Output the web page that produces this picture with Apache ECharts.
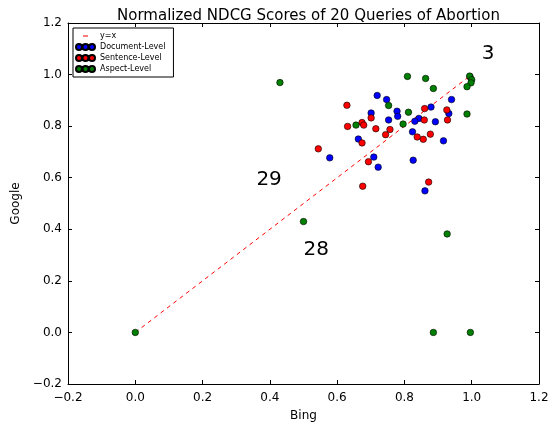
<!DOCTYPE html>
<html><head><meta charset="utf-8">
<script src="https://cdn.jsdelivr.net/npm/echarts@6/dist/echarts.min.js"></script>
<style>html,body{margin:0;padding:0;background:#fff}#c{width:552px;height:427px}</style>
</head><body><div id="c"></div>
<script>
const xTicks = [-0.2, 0.0, 0.2, 0.4, 0.6, 0.8, 1.0, 1.2];
const yTicks = [-0.2, 0.0, 0.2, 0.4, 0.6, 0.8, 1.0, 1.2];
const documentLevel = [
  [0.940,0.903],[0.719,0.919],[0.747,0.903],[0.701,0.851],[0.778,0.858],
  [0.780,0.838],[0.753,0.824],[0.879,0.874],[0.843,0.830],[0.831,0.819],
  [0.892,0.817],[0.932,0.849],[0.824,0.778],[0.916,0.743],[0.663,0.750],
  [0.578,0.677],[0.709,0.680],[0.722,0.641],[0.826,0.668],[0.861,0.549]
];
const sentenceLevel = [
  [0.995,0.991],[0.629,0.881],[0.701,0.832],[0.674,0.814],[0.679,0.804],
  [0.631,0.799],[0.715,0.790],[0.757,0.787],[0.860,0.868],[0.859,0.824],
  [0.926,0.863],[0.928,0.824],[0.744,0.767],[0.838,0.758],[0.856,0.749],
  [0.877,0.769],[0.674,0.735],[0.544,0.712],[0.693,0.662],[0.676,0.567],
  [0.872,0.583]
];
const aspectLevel = [
  [0.809,0.993],[0.863,0.985],[0.886,0.946],[0.994,0.994],[1.000,0.980],
  [0.998,0.968],[0.986,0.953],[0.986,0.847],[0.753,0.880],[0.812,0.854],
  [0.656,0.804],[0.796,0.808],[0.430,0.969],[0.500,0.430],[0.927,0.382],
  [0.886,0.000],[0.996,0.000],[0.000,0.000]
];
const identityLine = [[0,0],[1,1]];
const annotations = [[1.03,1.043,'3'],[0.36,0.553,'29'],[0.50,0.283,'28']];

const fmt = v => (Math.round(v*10)/10).toFixed(1).replace('-', '\u2212');
const font = 'DejaVu Sans';
const dots = 'path://M0,3a3,3 0 1,0 6,0a3,3 0 1,0 -6,0M6.5,3a3,3 0 1,0 6,0a3,3 0 1,0 -6,0M13,3a3,3 0 1,0 6,0a3,3 0 1,0 -6,0';

const axisCommon = {
  type:'value', min:-0.2, max:1.2, interval:0.2,
  axisLine:{show:true, onZero:false, lineStyle:{color:'#000', width:1}},
  axisTick:{show:true, inside:true, length:4, lineStyle:{color:'#000'}},
  splitLine:{show:false}
};
const chart = echarts.init(document.getElementById('c'), null, {renderer:'canvas'});
const scatterStyle = c => ({color:c, borderColor:'#000', borderWidth:0.6, opacity:1});
chart.setOption({
  animation:false,
  backgroundColor:'#fff',
  textStyle:{fontFamily:font},
  title:{text:'Normalized NDCG Scores of 20 Queries of Abortion', left:303.5, textAlign:'center', top:4,
    textStyle:{fontFamily:font, fontSize:15, fontWeight:'normal', color:'#000'}},
  grid:{left:68, right:13, top:23, bottom:40, containLabel:false},
  legend:{
    orient:'vertical', left:73, top:28, itemWidth:19, itemHeight:6, itemGap:3,
    padding:[4,8,4,2], borderColor:'#000', borderWidth:1, backgroundColor:'#fff',
    textStyle:{fontFamily:font, fontSize:8, color:'#000'},
    data:[
      {name:'y=x', itemStyle:{opacity:0}, lineStyle:{type:[0,7,5,100], width:1.2, color:'#ff0000'}},
      {name:'Document-Level', icon:dots},
      {name:'Sentence-Level', icon:dots},
      {name:'Aspect-Level', icon:dots}
    ]
  },
  xAxis:[
    Object.assign({}, axisCommon, {position:'bottom', name:'Bing', nameLocation:'middle', nameGap:26,
      nameTextStyle:{fontFamily:font, fontSize:12, color:'#000'},
      axisLabel:{color:'#000', fontFamily:font, fontSize:12, margin:8, formatter:fmt, showMinLabel:true, showMaxLabel:true}}),
    Object.assign({}, axisCommon, {position:'top', axisLabel:{show:false}})
  ],
  yAxis:[
    Object.assign({}, axisCommon, {position:'left', name:'Google', nameLocation:'middle', nameGap:38,
      nameTextStyle:{fontFamily:font, fontSize:12, color:'#000'},
      axisLabel:{color:'#000', fontFamily:font, fontSize:12, margin:6, formatter:fmt, showMinLabel:true, showMaxLabel:true}}),
    Object.assign({}, axisCommon, {position:'right', axisLabel:{show:false}})
  ],
  series:[
    {name:'y=x', type:'line', data:identityLine, symbol:'none', silent:true,
      lineStyle:{color:'#ff0000', width:1, type:[4,4]}, itemStyle:{color:'#ff0000'}, z:1},
    {name:'Document-Level', type:'scatter', data:documentLevel, symbolSize:6.5, itemStyle:scatterStyle('#0000ff'), z:2},
    {name:'Sentence-Level', type:'scatter', data:sentenceLevel, symbolSize:6.5, itemStyle:scatterStyle('#ff0000'), z:3},
    {name:'Aspect-Level', type:'scatter', data:aspectLevel, symbolSize:6.5, itemStyle:scatterStyle('#008000'), z:4},
    {name:'annot', type:'scatter', symbolSize:0, silent:true, z:5,
      itemStyle:{opacity:1},
      data:annotations.map(a => ({value:[a[0],a[1]], label:{formatter:a[2]}})),
      label:{show:true, position:[0,0], align:'left', verticalAlign:'bottom', opacity:1,
        fontFamily:font, fontSize:20, color:'#000'}}
  ]
});
</script></body></html>
